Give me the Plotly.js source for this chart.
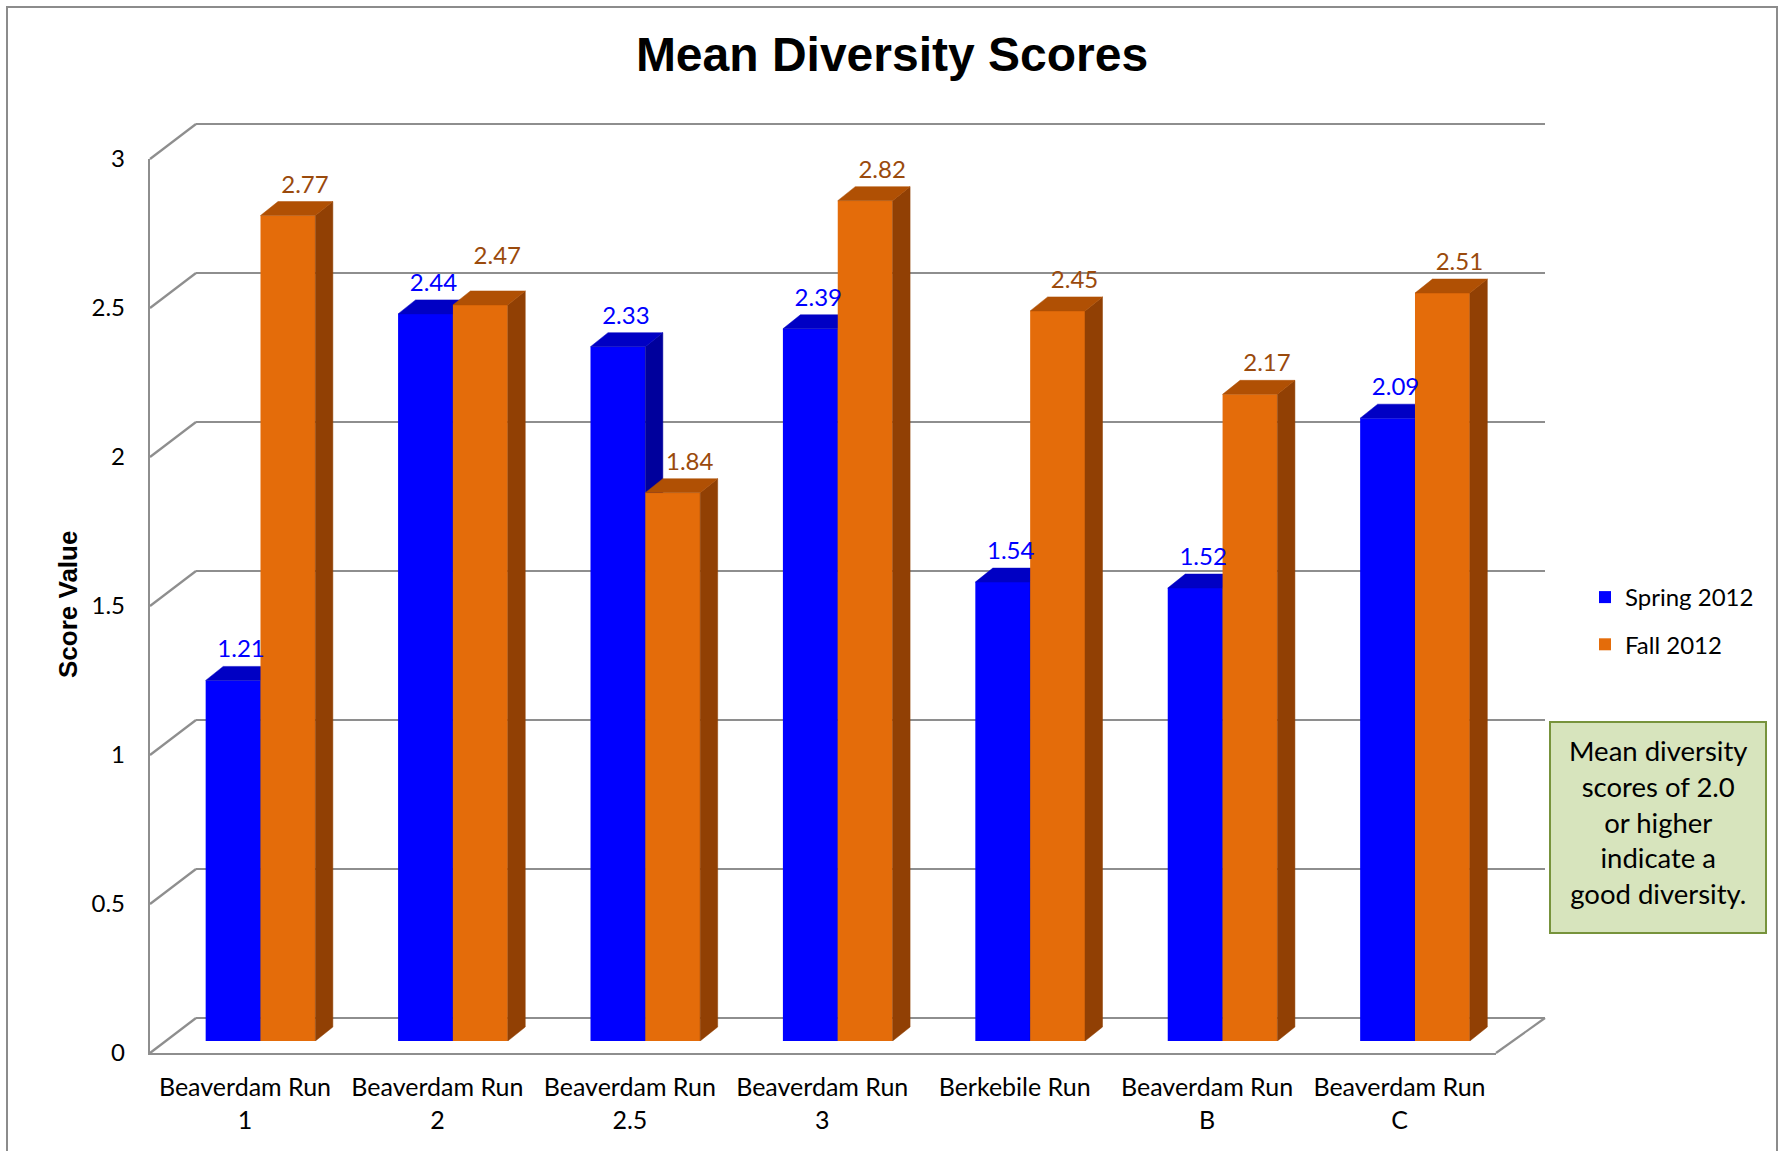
<!DOCTYPE html>
<html>
<head>
<meta charset="utf-8">
<script src="https://cdn.plot.ly/plotly-3.0.1.min.js"></script>
<style>
  html, body { margin: 0; padding: 0; background: #ffffff; }
  #chart { width: 1780px; height: 1151px; }
</style>
</head>
<body>
<div id="chart"></div>
<script>
// ---------------- data ----------------
const categories = [
  "Beaverdam Run<br>1",
  "Beaverdam Run<br>2",
  "Beaverdam Run<br>2.5",
  "Beaverdam Run<br>3",
  "Berkebile Run",
  "Beaverdam Run<br>B",
  "Beaverdam Run<br>C"
];
const springValues = [1.21, 2.44, 2.33, 2.39, 1.54, 1.52, 2.09];
const fallValues   = [2.77, 2.47, 1.84, 2.82, 2.45, 2.17, 2.51];
const seriesNames  = ["Spring 2012", "Fall 2012"];
const yTickValues  = [0, 0.5, 1, 1.5, 2, 2.5, 3];
const titleText    = "Mean Diversity Scores";
const yTitleText   = "Score Value";
const noteLines    = ["Mean diversity", "scores of 2.0", "or higher", "indicate a", "good diversity."];

// ---------------- layout geometry (pixels) ----------------
const W = 1780, H = 1151;
const YMAX = 3;
const BAR   = { x0: 164.3, x1: 1511.2, yb: 1041, yt: 147 };   // bar plane
const BACK  = { x0: 196,   x1: 1545,   yb: 1018, yt: 124 };   // back wall
const FRONT = { x0: 150,   x1: 1496,   yb: 1053, yt: 159 };   // front axis plane
const NOTE  = { x0: 1550,  x1: 1766,   y0: 722,  y1: 933 };   // note box
const unitPx = (BAR.x1 - BAR.x0) / categories.length;
const valPx  = (BAR.yb - BAR.yt) / YMAX;
const DXu = 17.5 / unitPx;     // depth offset in x units
const DYu = 14 / valPx;        // depth offset in value units
const BW  = 0.285;             // bar width (x units)
const LABEL_DX_SPRING = 8 / unitPx;
const LABEL_DX_FALL   = 17 / unitPx;
const LABEL_DY        = 3 / valPx;
const LABEL_BUMP      = 18 / valPx;   // lift a label that would collide with its neighbour

const px = p => p / W;
const py = p => 1 - p / H;
const idx = categories.map((_, i) => i);

const colors = {
  blueFront: "#0000FF", blueTop: "#0000C4", blueSide: "#00009C", blueText: "#0000FF",
  orFront: "#E46C0A", orTop: "#B05004", orSide: "#914004", orText: "#9A4A0C",
  grid: "#8E8E8E"
};

function faces(values, off) {
  const tx = [], ty = [], sx = [], sy = [];
  values.forEach((v, i) => {
    const xl = i + off, xr = xl + BW;
    tx.push(xl, xr, xr + DXu, xl + DXu, xl, null);
    ty.push(v, v, v + DYu, v + DYu, v, null);
    sx.push(xr, xr + DXu, xr + DXu, xr, xr, null);
    sy.push(0, DYu, v + DYu, v, 0, null);
  });
  return { tx, ty, sx, sy };
}

function seriesTraces(values, off, name, front, top, side, xa, ya, grp) {
  const f = faces(values, off);
  return [
    { type: "bar", x: idx, y: values, name: name, xaxis: xa, yaxis: ya,
      width: BW, offset: off, legendgroup: grp,
      marker: { color: front, line: { width: 0 } }, hoverinfo: "y" },
    { type: "scatter", mode: "lines", x: f.sx, y: f.sy, xaxis: xa, yaxis: ya,
      fill: "toself", fillcolor: side, line: { color: side, width: 0.5 },
      showlegend: false, hoverinfo: "skip" },
    { type: "scatter", mode: "lines", x: f.tx, y: f.ty, xaxis: xa, yaxis: ya,
      fill: "toself", fillcolor: top, line: { color: top, width: 0.5 },
      showlegend: false, hoverinfo: "skip" }
  ];
}

function labelTrace(values, off, dx, color, lift) {
  return {
    type: "scatter", mode: "text", xaxis: "x3", yaxis: "y3",
    x: values.map((v, i) => i + off + BW / 2 + dx),
    y: values.map((v, i) => v + DYu + LABEL_DY + lift(i)),
    text: values.map(v => v.toFixed(2)),
    textposition: "top center",
    textfont: { family: "Lato, 'Open Sans', sans-serif", size: 24, color: color },
    cliponaxis: false, showlegend: false, hoverinfo: "skip"
  };
}

const traces = [
  // back wall subplot (gridlines only)
  { type: "scatter", mode: "none", x: [], y: [], xaxis: "x", yaxis: "y", showlegend: false, hoverinfo: "skip" },
  // spring series (drawn first)
  ...seriesTraces(springValues, -BW, seriesNames[0], colors.blueFront, colors.blueTop, colors.blueSide, "x2", "y2", "g1"),
  // fall series on overlaid axes (drawn on top)
  ...seriesTraces(fallValues, 0, seriesNames[1], colors.orFront, colors.orTop, colors.orSide, "x3", "y3", "g2"),
  labelTrace(springValues, -BW, LABEL_DX_SPRING, colors.blueText, () => 0),
  labelTrace(fallValues, 0, LABEL_DX_FALL, colors.orText,
             i => (Math.abs(fallValues[i] - springValues[i]) < 0.08 ? LABEL_BUMP : 0)),
  // front axes subplot
  { type: "scatter", mode: "none", x: [], y: [], xaxis: "x4", yaxis: "y4", showlegend: false, hoverinfo: "skip" }
];

// shapes: depth diagonals of the left wall + floor right edge + outer frame + note box
const frontY = v => FRONT.yb - (FRONT.yb - FRONT.yt) * v / YMAX;
const backY  = v => BACK.yb - (BACK.yb - BACK.yt) * v / YMAX;
const shapes = yTickValues.map(v => ({
  type: "line", xref: "paper", yref: "paper", layer: "below",
  x0: px(FRONT.x0), y0: py(frontY(v)), x1: px(BACK.x0), y1: py(backY(v)),
  line: { color: colors.grid, width: 2.2 }
}));
shapes.push({
  type: "line", xref: "paper", yref: "paper", layer: "below",
  x0: px(FRONT.x1), y0: py(frontY(0)), x1: px(BACK.x1), y1: py(backY(0)),
  line: { color: colors.grid, width: 2.2 }
});
shapes.push({
  type: "rect", xref: "paper", yref: "paper", layer: "below",
  x0: px(7), x1: px(1777), y0: -0.05, y1: py(7),
  line: { color: "#8C8C8C", width: 2 }, fillcolor: "rgba(0,0,0,0)"
});
shapes.push({
  type: "rect", xref: "paper", yref: "paper", layer: "above",
  x0: px(NOTE.x0), x1: px(NOTE.x1), y0: py(NOTE.y1), y1: py(NOTE.y0),
  line: { color: "#77933C", width: 2 }, fillcolor: "#D7E4BD"
});

// back wall axis: pad the range so end gridlines are not clipped; keep the same px/unit
const PAD = 0.05;
const backUnit = (BACK.yb - BACK.yt) / YMAX;
const layout = {
  width: W, height: H,
  margin: { l: 0, r: 0, t: 0, b: 0, pad: 0 },
  paper_bgcolor: "#ffffff",
  plot_bgcolor: "rgba(0,0,0,0)",
  showlegend: true,
  title: {
    text: "<b>" + titleText + "</b>",
    x: px(892), y: py(54), xref: "paper", yref: "paper",
    xanchor: "center", yanchor: "middle",
    font: { family: "'Liberation Sans', Arial, sans-serif", size: 48, color: "#000000" }
  },
  // back wall gridlines
  xaxis: { domain: [px(BACK.x0), px(BACK.x1)], range: [0, 1], visible: false, fixedrange: true },
  yaxis: { domain: [py(BACK.yb + PAD * backUnit), py(BACK.yt - PAD * backUnit)],
           range: [-PAD, YMAX + PAD], tickvals: yTickValues,
           showticklabels: false, showgrid: true, gridcolor: colors.grid, gridwidth: 2.5,
           zeroline: false, showline: false, ticks: "", fixedrange: true },
  // bar plane
  xaxis2: { domain: [px(BAR.x0), px(BAR.x1)], range: [-0.5, categories.length - 0.5], visible: false, anchor: "y2", fixedrange: true },
  yaxis2: { domain: [py(BAR.yb), py(BAR.yt)], range: [0, YMAX], visible: false, anchor: "x2", fixedrange: true },
  xaxis3: { overlaying: "x2", range: [-0.5, categories.length - 0.5], visible: false, anchor: "y3", fixedrange: true },
  yaxis3: { overlaying: "y2", range: [0, YMAX], visible: false, anchor: "x3", fixedrange: true },
  // front axes
  xaxis4: { domain: [px(FRONT.x0), px(FRONT.x1)],
            range: [-(245 - FRONT.x0) / unitPx, (FRONT.x1 - 245) / unitPx],
            anchor: "y4", tickmode: "array", tickvals: idx, ticktext: categories,
            showline: true, linecolor: colors.grid, linewidth: 2.2, ticks: "",
            showgrid: false, zeroline: false, ticklabelstandoff: 11,
            tickfont: { family: "Lato, 'Open Sans', sans-serif", size: 25, color: "#000000" },
            fixedrange: true },
  yaxis4: { domain: [py(FRONT.yb), py(FRONT.yt)], range: [0, YMAX], anchor: "x4",
            tickmode: "array", tickvals: yTickValues, ticktext: yTickValues.map(String),
            showline: true, linecolor: colors.grid, linewidth: 2.2, ticks: "",
            showgrid: false, zeroline: false, ticklabelstandoff: 18,
            tickfont: { family: "Lato, 'Open Sans', sans-serif", size: 24, color: "#000000" },
            fixedrange: true },
  legend: {
    x: px(1585), y: py(575), xanchor: "left", yanchor: "top",
    bgcolor: "rgba(0,0,0,0)", borderwidth: 0,
    traceorder: "grouped", tracegroupgap: 13,
    font: { family: "Lato, 'Open Sans', sans-serif", size: 24, color: "#000000" }
  },
  annotations: [
    { text: "<b>" + yTitleText + "</b>", xref: "paper", yref: "paper",
      x: px(68), y: py(605), xanchor: "center", yanchor: "middle", textangle: -90,
      showarrow: false,
      font: { family: "'Liberation Sans', Arial, sans-serif", size: 26, color: "#000000" } },
    { text: noteLines.join("<br>"), xref: "paper", yref: "paper",
      x: px((NOTE.x0 + NOTE.x1) / 2), y: py(822), xanchor: "center", yanchor: "middle",
      align: "center", showarrow: false,
      font: { family: "Lato, 'Open Sans', sans-serif", size: 27.5, color: "#000000" } }
  ],
  shapes: shapes
};

Plotly.newPlot("chart", traces, layout, { staticPlot: true, displayModeBar: false });
</script>
</body>
</html>
